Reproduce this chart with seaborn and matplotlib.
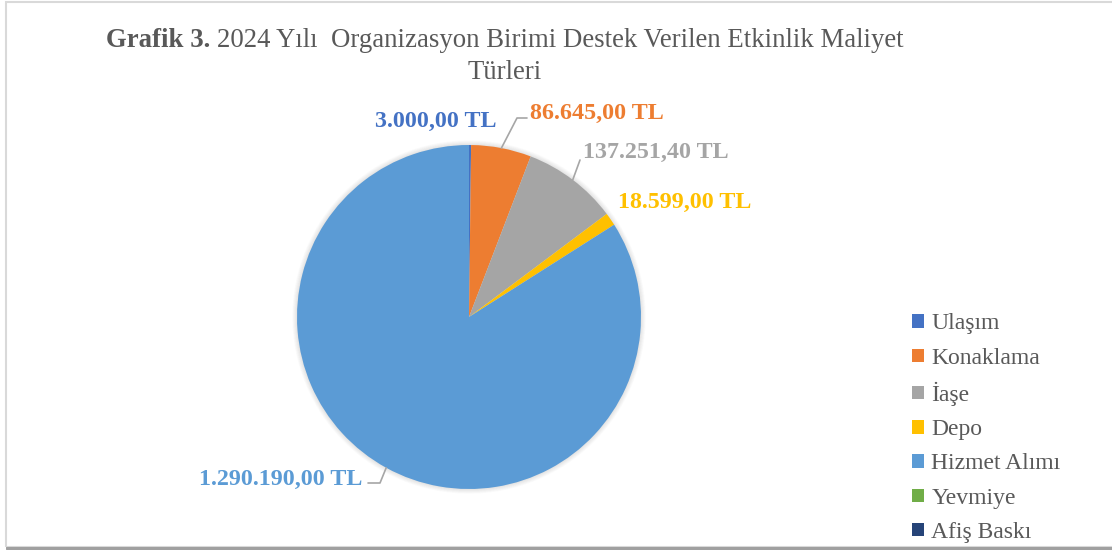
import matplotlib
matplotlib.use("Agg")
import matplotlib.pyplot as plt
import seaborn as sns
import numpy as np
from matplotlib.patches import Circle, Rectangle

# --- datos ---
kategoriler = ["Ulaşım", "Konaklama", "İaşe", "Depo", "Hizmet Alımı", "Yevmiye", "Afiş Baskı"]
maliyetler = [3000.00, 86645.00, 137251.40, 18599.00, 1290190.00, 0.0, 0.0]
etiketler = ["3.000,00 TL", "86.645,00 TL", "137.251,40 TL", "18.599,00 TL", "1.290.190,00 TL", "", ""]
renkler = ["#4472C4", "#ED7D31", "#A5A5A5", "#FFC000", "#5B9BD5", "#70AD47", "#264478"]

sns.set_theme(style="white")
plt.rcParams['font.family'] = ['Liberation Serif', 'DejaVu Serif']

W, H = 1112, 550
fig = plt.figure(figsize=(W / 100, H / 100), dpi=100)
ax = fig.add_axes([0, 0, 1, 1])

# pie center and radius in pixels
cx, cy, R = 469, 317, 172


def px(x, y):
    return (x - cx) / R, (cy - y) / R


# soft shadow
for i in range(10):
    ax.add_patch(Circle((0, 0), 1 + 0.003 * i, color="#7f7f7f", alpha=0.025, lw=0, zorder=0))

palet = sns.color_palette(renkler)
wedges, _ = ax.pie(maliyetler, colors=palet, startangle=90, counterclock=False,
                   radius=1, center=(0, 0), frame=True,
                   wedgeprops=dict(linewidth=0))
ax.set_xlim(-cx / R, (W - cx) / R)
ax.set_ylim(-(H - cy) / R, cy / R)
ax.set_aspect("equal")
ax.axis("off")

# mid angles
toplam = sum(maliyetler)
kum = np.cumsum([0] + maliyetler[:-1])
orta = [90 - 360 * (k + v / 2) / toplam for k, v in zip(kum, maliyetler)]


def kenar(i):
    a = np.deg2rad(orta[i])
    return np.cos(a), np.sin(a)


# labels
konumlar = {0: ((436, 121), "center"), 1: ((530, 113), "left"), 2: ((583, 152), "left"),
            3: ((618, 202), "left"), 4: ((362, 479), "right")}
for i, ((x, y), ha) in konumlar.items():
    ax.text(*px(x, y), etiketler[i], color=renkler[i], fontsize=17.3, fontweight="bold",
            ha=ha, va="center")

# leader lines
cizgiler = {1: [(517, 118), (527, 118)], 2: [(580, 160)], 4: [(380, 483), (368, 483)]}
for i, noktalar in cizgiler.items():
    xs, ys = [kenar(i)[0]], [kenar(i)[1]]
    for p in noktalar:
        dx, dy = px(*p)
        xs.append(dx)
        ys.append(dy)
    ax.plot(xs, ys, color="#A6A6A6", lw=1.2)

# title with bold part
renderer = fig.canvas.get_renderer()
kalin = "Grafik 3. "
normal = "2024 Yılı  Organizasyon Birimi Destek Verilen Etkinlik Maliyet"
tfs = 19.3
t1 = fig.text(0, 0, kalin, fontsize=tfs, fontweight="bold", color="#595959")
t2 = fig.text(0, 0, normal, fontsize=tfs, color="#595959")
w1 = t1.get_window_extent(renderer).width
w2 = t2.get_window_extent(renderer).width
x0 = 505 - (w1 + w2) / 2
t1.set_position((x0 / W, 1 - 47 / H))
t2.set_position(((x0 + w1) / W, 1 - 47 / H))
fig.text(505 / W, 1 - 79 / H, "Türleri", fontsize=tfs, color="#595959", ha="center")

# legend
leg = fig.legend(wedges, kategoriler, loc="upper left", bbox_to_anchor=(903 / W, 1 - 304 / H),
                 frameon=False, fontsize=17, handlelength=0.5, handleheight=0.5,
                 handletextpad=0.3, labelspacing=0.56, borderaxespad=0)
for t in leg.get_texts():
    t.set_color("#595959")

# chart border
fig.patches.append(Rectangle((6 / W, 3 / H), 1.2, 1 - 5 / H, transform=fig.transFigure,
                             fill=False, edgecolor="#D9D9D9", lw=1.5))
fig.patches.append(Rectangle((6 / W, 2 / H), 1.2, 0, transform=fig.transFigure,
                             fill=False, edgecolor="#A0A0A0", lw=2))

fig.savefig("out.png", dpi=100)
